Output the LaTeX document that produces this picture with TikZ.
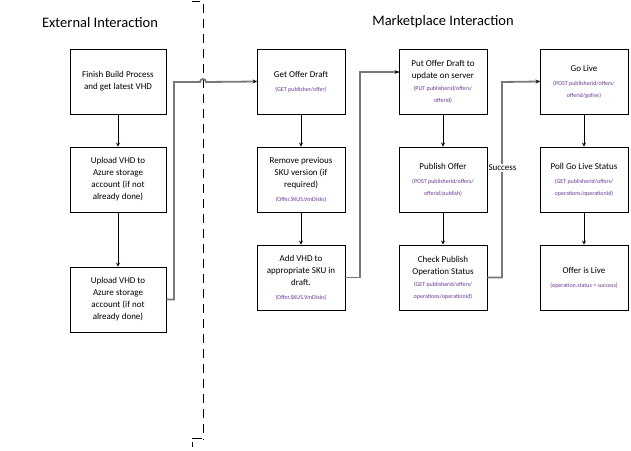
\documentclass[tikz,border=0pt]{standalone}
\usepackage{fontspec}
\setmainfont{Carlito}
\usepackage{tikz}
\usetikzlibrary{calc}
\definecolor{apicolor}{RGB}{104,56,150}
\definecolor{linkgray}{RGB}{120,120,120}
\newcommand\apitext[1]{{\fontsize{6}{11}\selectfont\color{apicolor}#1}}% small api call under a step

\begin{document}
\begin{tikzpicture}[x=1pt,y=-1pt,>=stealth,
	stepbox/.style={draw,line width=0.8,minimum width=88,minimum height=65,align=center,inner sep=2,font=\fontsize{9}{12}\selectfont},
	widebox/.style={stepbox,minimum width=96},
	flow/.style={->,line width=0.8,black},
	link/.style={line width=1.8,linkgray}]
	\useasboundingbox (0,0) rectangle (631,450);

	%headings
	\node (exthead) at (100,23) {\fontsize{14.5}{16}\selectfont External Interaction};
	\node (mkthead) at (443,22) {\fontsize{14.5}{16}\selectfont Marketplace Interaction};

	%divider
	\draw[line width=1,dash pattern=on 9 off 6] (203,4) -- (203,440);
	\draw[line width=1] (192,1.5) -- (200,1.5);		%top tick
	\draw[line width=1] (192,438.5) -- (202,438.5);	%bottom tick
	\draw[line width=1] (192,442) -- (192,447);

	%external steps
	\node[widebox] (build) at (118,81.5) {Finish Build Process\\and get latest VHD};
	\node[widebox] (upload) at (118,179.5) {Upload VHD to\\Azure storage\\account (if not\\already done)};
	\node[widebox] (uploadb) at (118,299.5) {Upload VHD to\\Azure storage\\account (if not\\already done)};

	%draft steps
	\node[stepbox] (getdraft) at (301,81.5) {Get Offer Draft\\[2pt]\apitext{(GET publisher/offer)}};
	\node[stepbox] (remove) at (301,179.5) {Remove previous\\SKU version (if\\required)\\[2pt]\apitext{(Offer.SKUS.VmDisks)}};
	\node[stepbox] (addvhd) at (301,277.5) {Add VHD to\\appropriate SKU in\\draft.\\[2pt]\apitext{(Offer.SKUS.VmDisks)}};

	%publish steps
	\node[stepbox] (putdraft) at (443,81.5) {Put Offer Draft to\\update on server\\\apitext{(PUT publisherid/offers/}\\\apitext{offerid)}};
	\node[stepbox] (publish) at (443,179.5) {Publish Offer\\[2pt]\apitext{(POST publisherid/offers/}\\\apitext{offerid/publish)}};
	\node[stepbox] (check) at (443,277.5) {Check Publish\\Operation Status\\\apitext{(GET publisherid/offers/}\\\apitext{operations/operationId)}};

	%live steps
	\node[stepbox] (golive) at (584,81.5) {Go Live\\[2pt]\apitext{(POST publisherid/offers/}\\\apitext{offerid/golive)}};
	\node[stepbox] (poll) at (584,179.5) {Poll Go Live Status\\[2pt]\apitext{(GET publisherid/offers/}\\\apitext{operations/operationId)}};
	\node[stepbox] (live) at (584,277.5) {Offer is Live\\[2pt]\apitext{(operation.status = success)}};

	%arrows down the columns
	\draw[flow] (build) -- (upload);
	\draw[flow] (upload) -- (uploadb);
	\draw[flow] (getdraft) -- (remove);
	\draw[flow] (remove) -- (addvhd);
	\draw[flow] (putdraft) -- (publish);
	\draw[flow] (publish) -- (check);
	\draw[flow] (golive) -- (poll);
	\draw[flow] (poll) -- (live);

	%links between the columns
	\coordinate (k1) at (174,82);
	\coordinate (hop) at (200,82);
	\draw[link] (uploadb.east) -| (k1) -- (hop) arc (180:360:3) -- (getdraft.west);
	\draw[flow] ($(getdraft.west)+(-3,0)$) -- (getdraft.west);
	\coordinate (k2) at (360,72);
	\draw[link] (addvhd.east) -| (k2) -- (k2 -| putdraft.west);
	\draw[flow] ($(k2 -| putdraft.west)+(-3,0)$) -- (k2 -| putdraft.west);
	\coordinate (k3) at (502,82);
	\draw[link] (check.east) -| (k3) -- (golive.west);
	\draw[flow] ($(golive.west)+(-3,0)$) -- (golive.west);
	\node[fill=white,inner sep=1,font=\fontsize{9}{10}\selectfont] (success) at (502.5,168) {Success};
\end{tikzpicture}
\end{document}
